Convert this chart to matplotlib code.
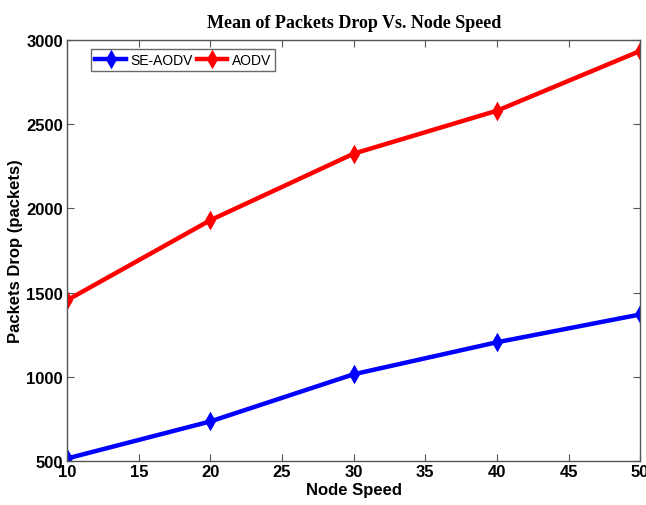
import matplotlib.pyplot as plt

# datos
node_speed = [10, 20, 30, 40, 50]
se_aodv = [515, 735, 1015, 1205, 1370]
aodv = [1455, 1930, 2325, 2580, 2935]

fig = plt.figure(figsize=(6.46, 5.06), dpi=100)
ax = fig.add_axes([0.104, 0.087, 0.887, 0.832])

ax.plot(node_speed, se_aodv, color='#0000FF', linewidth=3.2, marker='d',
        markersize=7, markeredgewidth=2, label='SE-AODV')
ax.plot(node_speed, aodv, color='#FF0000', linewidth=3.2, marker='d',
        markersize=7, markeredgewidth=2, label='AODV')

ax.set_xlim(10, 50)
ax.set_ylim(500, 3000)
ax.set_xticks(range(10, 51, 5))
ax.set_yticks(range(500, 3001, 500))

font = 'Liberation Sans'
for lbl in ax.get_xticklabels() + ax.get_yticklabels():
    lbl.set_family(font)
    lbl.set_fontweight('bold')
    lbl.set_fontsize(12)

ax.tick_params(direction='in', top=True, right=True, length=5, width=0.8,
               color='#555555', pad=2)
ax.tick_params(axis='y', pad=3)
for s in ax.spines.values():
    s.set_color('#555555')
    s.set_linewidth(1.0)

ax.set_xlabel('Node Speed', family=font, fontweight='bold', fontsize=12, labelpad=2)
ax.set_ylabel('Packets Drop (packets)', family=font, fontweight='bold', fontsize=12, labelpad=2)
ax.set_title('Mean of Packets Drop Vs. Node Speed', family='Liberation Serif',
             fontweight='bold', fontsize=13, pad=9)

leg = ax.legend(loc='upper left', ncol=2, frameon=True, fancybox=False,
                prop={'family': font, 'size': 10}, handlelength=2.2,
                columnspacing=0.3, handletextpad=0.3, borderpad=0.3,
                bbox_to_anchor=(0.03, 0.995))
leg.get_frame().set_edgecolor('#444444')
leg.get_frame().set_linewidth(1.0)

plt.savefig('out.png', dpi=100)
